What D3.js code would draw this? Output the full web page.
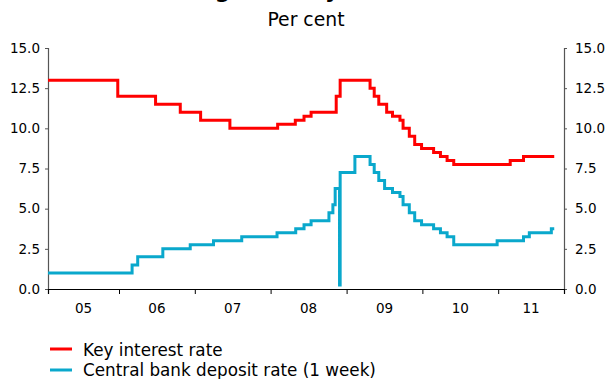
<!DOCTYPE html>
<html><head><meta charset="utf-8">
<script src="https://cdn.jsdelivr.net/npm/d3@7"></script>
<style>
html,body{margin:0;padding:0;background:#fff;}
svg{display:block;font-family:"DejaVu Sans",Verdana,sans-serif;}
</style></head>
<body><svg id="chart" width="606" height="379"></svg>
<script>
const titleText = "Changes in key rates";
const subtitleText = "Per cent";
const seriesNames = ["Key interest rate", "Central bank deposit rate (1 week)"];
const seriesColors = ["#ff0000", "#0aa8cc"];

const keyRateDates = ["2005-01-01","2005-12-26","2006-06-26","2006-10-23","2007-01-29","2007-06-19",
  "2008-02-04","2008-04-29","2008-06-10","2008-07-14","2008-11-12","2008-12-01",
  "2009-04-24","2009-05-14","2009-06-05","2009-07-13","2009-08-10","2009-09-15","2009-09-30",
  "2009-10-30","2009-11-25","2009-12-28","2010-02-24","2010-03-29","2010-04-30","2010-06-01",
  "2011-02-28","2011-05-03","2011-09-28"];
const keyRateValues = [13,12,11.5,11,10.5,10,
  10.25,10.5,10.75,11,12,13,
  12.5,12,11.5,11,10.75,10.5,10,
  9.5,9,8.75,8.5,8.25,8,7.75,
  8,8.25,8.25];

const depositDates = ["2005-01-01","2006-03-05","2006-04-01","2006-07-31","2006-12-10","2007-04-01",
  "2007-08-15","2008-02-01","2008-05-01","2008-06-10","2008-07-14","2008-10-08","2008-10-27",
  "2008-11-07","2008-11-28","2008-12-01","2009-02-10","2009-04-24","2009-05-14","2009-06-05",
  "2009-07-03","2009-08-10","2009-09-15","2009-09-30","2009-10-30","2009-11-25","2009-12-28",
  "2010-02-24","2010-03-29","2010-04-30","2010-06-01","2010-12-27","2011-05-03","2011-05-31",
  "2011-09-14","2011-09-28"];
const depositValues = [1,1.5,2,2.5,2.75,3,
  3.25,3.5,3.75,4,4.25,4.75,5.25,
  6.25,0.25,7.25,8.25,7.75,7.25,6.75,
  6.25,6,5.75,5.25,4.75,4.25,4,
  3.75,3.5,3.25,2.75,3,3.25,3.5,
  3.75,3.75];

const yTicks = [0,2.5,5,7.5,10,12.5,15];
const yearLabels = ["05","06","07","08","09","10","11"];
const yearStarts = [2005,2006,2007,2008,2009,2010,2011];

(function(){
const svg = d3.select("#chart");
const parse = d3.timeParse("%Y-%m-%d");
const pl = 48, pr = 564, pt = 48, pb = 289;

const x = d3.scaleTime()
  .domain([new Date(2005,0,24), new Date(2011,10,14)])
  .range([pl, pr]);
const y = d3.scaleLinear().domain([0,15]).range([pb, pt]);

svg.append("text").attr("x",153).attr("y",-2)
  .attr("font-size","21.8px").attr("font-weight","bold").attr("fill","#000")
  .text(titleText);
svg.append("text").attr("x",(pl+pr)/2).attr("y",26)
  .attr("text-anchor","middle").attr("font-size","18.8px").attr("fill","#000")
  .text(subtitleText);

const fmt = d3.format(".1f");
const yl = svg.append("g").attr("transform",`translate(${pl},0)`)
  .call(d3.axisLeft(y).tickValues(yTicks).tickFormat(fmt).tickSize(3).tickPadding(5));
const yr = svg.append("g").attr("transform",`translate(${pr},0)`)
  .call(d3.axisRight(y).tickValues(yTicks).tickFormat(fmt).tickSize(3).tickPadding(8));
[yl,yr].forEach(g=>{
  g.select(".domain").attr("stroke","#555").attr("stroke-width",1.2);
  g.selectAll(".tick line").attr("stroke","#555");
  g.selectAll(".tick text").attr("font-size","13.5px").attr("fill","#000")
    .attr("font-family","DejaVu Sans, Verdana, sans-serif");
});

const d0 = x.domain()[0], d1 = x.domain()[1];
const tickDates = yearStarts.map(yy=>new Date(yy,0,1)).filter(d=>d>d0 && d<d1);
const xg = svg.append("g").attr("transform",`translate(0,${pb})`)
  .call(d3.axisBottom(x).tickValues(tickDates).tickSize(5).tickFormat(""));
xg.select(".domain").attr("stroke","#000").attr("stroke-width",1.2);
xg.selectAll(".tick line").attr("stroke","#000");
svg.append("g").selectAll("text").data(yearStarts).join("text")
  .attr("x",(yy)=>{
    const a = new Date(Math.max(new Date(yy,0,1), d0));
    const b = new Date(Math.min(new Date(yy+1,0,1), d1));
    return (x(a)+x(b))/2;
  })
  .attr("y",313).attr("text-anchor","middle").attr("font-size","13.5px").attr("fill","#000")
  .text((yy,i)=>yearLabels[i]);

const line = d3.line().curve(d3.curveStepAfter)
  .x(d=>x(d.date)).y(d=>y(d.value));
const clipStart = d=>d.date < d0 ? {date:d0,value:d.value} : d;
const keyData = keyRateDates.map((s,i)=>({date:parse(s),value:keyRateValues[i]}));
const depData = depositDates.map((s,i)=>({date:parse(s),value:depositValues[i]}));
svg.append("path").datum(depData.map(clipStart)).attr("d",line)
  .attr("fill","none").attr("stroke",seriesColors[1]).attr("stroke-width",3);
svg.append("path").datum(keyData.map(clipStart)).attr("d",line)
  .attr("fill","none").attr("stroke",seriesColors[0]).attr("stroke-width",3);

const lg = svg.append("g");
const rows = [349, 370];
const baselines = [356, 375.5];
seriesNames.forEach((name,i)=>{
  lg.append("line").attr("x1",50).attr("x2",72).attr("y1",rows[i]).attr("y2",rows[i])
    .attr("stroke",seriesColors[i]).attr("stroke-width",3);
  lg.append("text").attr("x",83).attr("y",baselines[i]).attr("font-size","16.8px").attr("fill","#000")
    .text(name);
});
})();
</script></body></html>
